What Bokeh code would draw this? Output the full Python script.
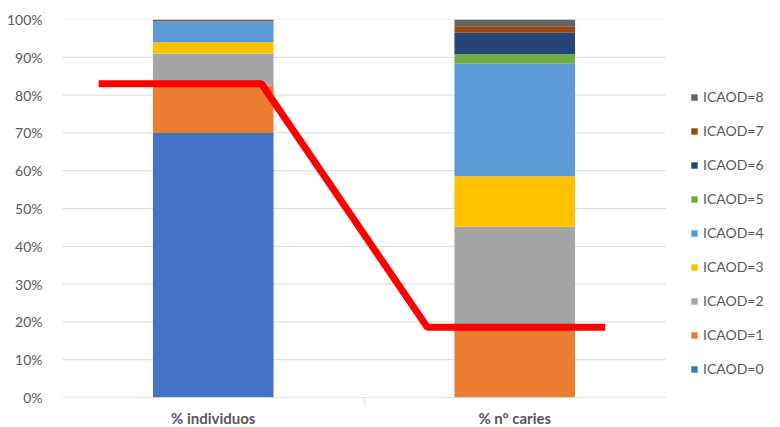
from bokeh.plotting import figure
from bokeh.models import ColumnDataSource, Range1d, FixedTicker, Legend, LegendItem
from bokeh.embed import file_html
from bokeh.resources import INLINE

categories = ["% individuos", "% nº caries"]
cat_x = [0.5, 1.5]
series = ["ICAOD=0", "ICAOD=1", "ICAOD=2", "ICAOD=3", "ICAOD=4",
          "ICAOD=5", "ICAOD=6", "ICAOD=7", "ICAOD=8"]
icaod0 = [70.0, 0.0]
icaod1 = [12.5, 19.0]
icaod2 = [8.5, 26.2]
icaod3 = [3.0, 13.3]
icaod4 = [5.4, 29.8]
icaod5 = [0.0, 2.6]
icaod6 = [0.0, 5.6]
icaod7 = [0.1, 1.7]
icaod8 = [0.5, 1.8]
colors = ["#4472C4", "#ED7D31", "#A5A5A5", "#FFC000", "#5B9BD5",
          "#70AD47", "#264478", "#9E480E", "#636363"]
red_x = [0.12, 0.66, 1.21, 1.80]
red_y = [83.0, 83.0, 18.6, 18.6]
y_ticks = [0, 10, 20, 30, 40, 50, 60, 70, 80, 90, 100]

FONT = "Lato"
GREY = "#595959"

PLOT_W = 603
FRAME_W = 702
x_max = 2 * FRAME_W / PLOT_W

data = dict(x=cat_x)
for name, vals in zip(series, [icaod0, icaod1, icaod2, icaod3, icaod4,
                               icaod5, icaod6, icaod7, icaod8]):
    data[name] = vals
src = ColumnDataSource(data)

p = figure(frame_width=FRAME_W, frame_height=378, output_backend="svg", toolbar_location=None,
           x_range=Range1d(0, x_max), y_range=Range1d(0, 100),
           min_border_left=62, min_border_right=0, min_border_top=19,
           min_border_bottom=30)
p.outline_line_color = None
p.xgrid.grid_line_color = None
p.ygrid.grid_line_color = None

# horizontal gridlines limited to the category area
p.segment(x0=[0] * len(y_ticks), x1=[2] * len(y_ticks), y0=y_ticks, y1=y_ticks,
          line_color="#D9D9D9", line_width=1)

renderers = p.vbar_stack(series, x="x", width=0.4, source=src, color=colors,
                         line_color=None)

p.line(red_x, red_y, line_color="#FF0000", line_width=7)

p.yaxis.ticker = FixedTicker(ticks=y_ticks)
p.yaxis.major_label_overrides = {t: f"{t}%" for t in y_ticks}
p.yaxis.axis_line_color = None
p.yaxis.major_tick_line_color = None
p.yaxis.minor_tick_line_color = None
p.yaxis.major_label_text_font = FONT
p.yaxis.major_label_text_font_size = "14px"
p.yaxis.major_label_text_color = GREY
p.yaxis.major_label_standoff = 14

p.xaxis.ticker = FixedTicker(ticks=cat_x, minor_ticks=[1.0])
p.xaxis.major_label_overrides = {x: c for x, c in zip(cat_x, categories)}
p.xaxis.axis_line_color = None
p.xaxis.major_tick_line_color = None
p.xaxis.minor_tick_line_color = "#D9D9D9"
p.xaxis.minor_tick_out = 7
p.xaxis.minor_tick_in = 0
p.xaxis.major_label_text_font = FONT
p.xaxis.major_label_text_font_size = "15px"
p.xaxis.major_label_text_font_style = "bold"
p.xaxis.major_label_text_color = GREY
p.xaxis.major_label_standoff = 4

# baseline of the category axis
p.segment(x0=[0], x1=[2], y0=[0], y1=[0], line_color="#D9D9D9", line_width=1)

items = [LegendItem(label=name, renderers=[r]) for name, r in zip(series, renderers)]
legend = Legend(items=list(reversed(items)), location=(PLOT_W + 25, 20),
                glyph_width=8, glyph_height=8, label_height=14, spacing=17,
                margin=0, padding=6, label_standoff=5,
                label_text_font=FONT, label_text_font_size="14px",
                label_text_color=GREY, border_line_color=None,
                background_fill_alpha=0)
p.add_layout(legend, "center")

open("out.html", "w").write(file_html(p, INLINE))
